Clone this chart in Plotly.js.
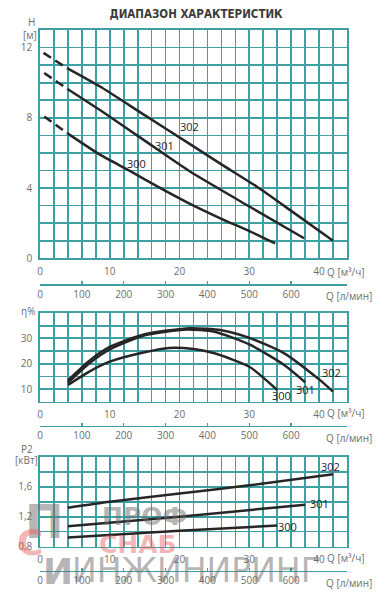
<!DOCTYPE html>
<html>
<head>
<meta charset="utf-8">
<script src="https://cdn.plot.ly/plotly-3.0.1.min.js"></script>
<style>html,body{margin:0;padding:0;background:#fff;}#chart{width:392px;height:600px;}</style>
</head>
<body>
<div id="chart"></div>
<script>
// ---------- DATA ----------
const models = ["300", "301", "302"];

// Head H [m] vs Q [m3/h]
const headDashQ300 = [0.6, 4.0];   const headDashH300 = [8.07, 7.1];
const headDashQ301 = [0.6, 4.0];   const headDashH301 = [10.55, 9.63];
const headDashQ302 = [0.5, 4.0];   const headDashH302 = [11.7, 10.8];
const headQ300 = [4.0, 8.6, 13, 17, 21.5, 26, 30, 33.7];
const headH300 = [7.1, 5.9, 4.95, 4.05, 3.1, 2.25, 1.55, 0.85];
const headQ301 = [4.0, 8.6, 15, 21.5, 30, 37.85];
const headH301 = [9.63, 8.44, 6.7, 4.94, 2.95, 1.14];
const headQ302 = [4.0, 8.6, 15, 21.5, 26, 31, 36, 42];
const headH302 = [10.8, 9.78, 8.15, 6.5, 5.35, 4.1, 2.7, 1.0];

// Efficiency eta [%]
const effQ300 = [4, 7, 10, 15, 18.5, 22, 25, 30, 34];
const effE300 = [11.6, 16.8, 20.8, 24.5, 26.2, 25.8, 24.1, 18.8, 9.6];
const effQ301 = [4, 7, 10, 15, 21, 25, 30, 35, 38];
const effE301 = [12.5, 20.0, 25.6, 31.2, 33.5, 32.6, 27.6, 19.5, 12.7];
const effQ302 = [4, 7, 10, 15, 21.5, 26, 30, 35, 40, 42];
const effE302 = [13.4, 21.0, 26.6, 31.6, 34.0, 33.2, 30.2, 24.1, 13.8, 9.0];

// Power P2 [kW]
const powQ300 = [4, 20, 34];  const powP300 = [0.92, 1.01, 1.08];
const powQ301 = [4, 20, 38];  const powP301 = [1.07, 1.20, 1.36];
const powQ302 = [4, 10, 20, 30, 42]; const powP302 = [1.32, 1.40, 1.51, 1.62, 1.77];

// Axis ticks
const qTicks = [0, 10, 20, 30, 40];
const qTickText = ["0", "10", "20", "30", "40"];
const lminTicks = [0, 100, 200, 300, 400, 500, 600];
const hTicks = [0, 4, 8, 12];
const hTickText = ["0", "4", "8", "12"];
const effTicks = [10, 20, 30];
const effTickText = ["10", "20", "30"];
const powTicks = [0.8, 1.2, 1.6];
const powTickText = ["0,8", "1,2", "1,6"];

// Label positions (data units)
const headLabelQ = [13.9, 17.9, 21.4]; const headLabelH = [5.4, 6.45, 7.5];
const effLabelQ = [34.6, 38.1, 41.8];  const effLabelE = [7.6, 9.9, 16.5];
const powLabelQ = [35.4, 40.1, 41.6];  const powLabelP = [1.07, 1.37, 1.87];

// ---------- STYLE ----------
const W = 392, H = 600;
const GRID = "rgb(62,160,162)";
const CURVE = "#262626";
const TICKC = "#6e6e6e";
const FONT = "Open Sans";
const GW = 1.7;
const px = v => v / W;
const py = v => 1 - v / H;
const xDom = [px(40), px(347)];
const qMax = 44;
const lminMax = qMax * 1000 / 60;

// grid positions (every step) with labels only at the labelled ticks
function gridTicks(lo, hi, step, labVals, labText) {
  const vals = [], text = [];
  const n = Math.round((hi - lo) / step);
  for (let i = 0; i <= n; i++) {
    const v = +(lo + i * step).toFixed(4);
    vals.push(v);
    const k = labVals.findIndex(l => Math.abs(l - v) < 1e-6);
    text.push(k >= 0 ? labText[k] : "");
  }
  return {vals, text};
}

function line(x, y, xa, ya, dash) {
  return {x: x, y: y, xaxis: xa, yaxis: ya, type: "scatter", mode: "lines",
    line: {color: CURVE, width: 2.5, shape: "spline", smoothing: 0.6, dash: dash || "solid"},
    hoverinfo: "skip", showlegend: false};
}
function carrier(xa, ya) {
  return {x: lminTicks, y: lminTicks.map(() => null), xaxis: xa, yaxis: ya, type: "scatter",
    mode: "lines", hoverinfo: "skip", showlegend: false, line: {width: 0}};
}

const traces = [
  line(headDashQ300, headDashH300, "x", "y", "9px,5px"),
  line(headDashQ301, headDashH301, "x", "y", "9px,5px"),
  line(headDashQ302, headDashH302, "x", "y", "9px,5px"),
  line(headQ300, headH300, "x", "y"),
  line(headQ301, headH301, "x", "y"),
  line(headQ302, headH302, "x", "y"),
  line(effQ300, effE300, "x2", "y2"),
  line(effQ301, effE301, "x2", "y2"),
  line(effQ302, effE302, "x2", "y2"),
  line(powQ300, powP300, "x3", "y3"),
  line(powQ301, powP301, "x3", "y3"),
  line(powQ302, powP302, "x3", "y3"),
  carrier("x4", "y"),
  carrier("x5", "y2"),
  carrier("x6", "y3")
];

const common = {showgrid: true, gridcolor: GRID, gridwidth: GW, ticks: "",
  showline: true, linecolor: GRID, linewidth: GW, mirror: true, zeroline: false,
  tickfont: {family: FONT, size: 10, color: TICKC}, fixedrange: true, tickmode: "array"};

function qAxis(anchor) {
  const g = gridTicks(0, qMax, 2, qTicks, qTickText);
  return Object.assign({}, common, {domain: xDom, range: [0, qMax], anchor: anchor,
    tickvals: g.vals, ticktext: g.text, ticklabelstandoff: 3});
}
function yAxis(anchor, dom, range, step, tv, tt) {
  const g = gridTicks(range[0], range[1], step, tv, tt);
  return Object.assign({}, common, {domain: dom, range: range, anchor: anchor,
    tickvals: g.vals, ticktext: g.text, ticklabelstandoff: 4});
}
function lminAxis(over, pos) {
  return {overlaying: over, anchor: "free", position: pos, side: "bottom", domain: xDom,
    range: [0, lminMax], tickmode: "array", tickvals: lminTicks,
    ticks: "inside", ticklen: 3, tickcolor: GRID, tickwidth: 1.4,
    showgrid: false, showline: true, linecolor: GRID, linewidth: GW, zeroline: false,
    tickfont: {family: FONT, size: 10, color: TICKC}, fixedrange: true};
}

const ann = [];
function txt(x, y, t, opts) {
  ann.push(Object.assign({x: x, y: y, xref: "paper", yref: "paper", text: t, showarrow: false,
    xanchor: "center", yanchor: "middle", font: {family: FONT, size: 10, color: TICKC}}, opts || {}));
}
// axis unit labels
txt(px(31), py(22), "H");
txt(px(30), py(35), "[м]");
txt(px(28), py(311), "η%");
txt(px(27), py(449), "P2");
txt(px(26), py(460), "[кВт]");
[[271.7, 295.7], [413, 438], [558, 582.7]].forEach(r => {
  txt(px(345), py(r[0]), "Q [м³/ч]");
  txt(px(349), py(r[1]), "Q [л/мин]");
});
// curve labels
const labFont = {family: FONT, size: 11, color: "#1e1e1e"};
for (let i = 0; i < 3; i++) {
  ann.push({x: headLabelQ[i], y: headLabelH[i], xref: "x", yref: "y", text: models[i], showarrow: false, font: labFont});
  ann.push({x: effLabelQ[i], y: effLabelE[i], xref: "x2", yref: "y2", text: models[i], showarrow: false, font: labFont});
  ann.push({x: powLabelQ[i], y: powLabelP[i], xref: "x3", yref: "y3", text: models[i], showarrow: false, font: labFont});
}
// watermark
const WG = "rgba(110,110,110,0.5)", WR = "rgba(232,90,90,0.45)";
txt(px(144), py(516), "ПРОФ", {font: {family: "DejaVu Sans", size: 25, weight: "bold", color: WG}});
txt(px(138), py(544), "СНАБ", {font: {family: "DejaVu Sans", size: 25, weight: "bold", color: WR}});
txt(px(196), py(570), "ИНЖИНИРИНГ", {font: {family: "DejaVu Sans", size: 33, color: WG}});
txt(px(44), py(522), "П", {font: {family: "DejaVu Sans", size: 46, weight: "bold", color: WG}});
txt(px(30), py(542), "С", {font: {family: "DejaVu Sans", size: 36, weight: "bold", color: WR}});
txt(px(58), py(571), "И", {font: {family: "DejaVu Sans", size: 36, weight: "bold", color: WG}});

const layout = {
  width: W, height: H, margin: {l: 0, r: 0, t: 0, b: 0},
  paper_bgcolor: "#fff", plot_bgcolor: "#fff", showlegend: false,
  title: {text: "ДИАПАЗОН ХАРАКТЕРИСТИК", x: 0.5, xref: "paper", y: py(14), yref: "paper",
    xanchor: "center", yanchor: "middle",
    font: {family: "DejaVu Sans Condensed", size: 11.5, weight: "bold", color: "#3c3c3c"}},
  xaxis: qAxis("y"),
  yaxis: yAxis("x", [py(258.3), py(30)], [0, 13], 1, hTicks, hTickText),
  xaxis2: qAxis("y2"),
  yaxis2: yAxis("x2", [py(401.7), py(313)], [5, 40], 5, effTicks, effTickText),
  xaxis3: qAxis("y3"),
  yaxis3: yAxis("x3", [py(546.5), py(457)], [0.8, 2.0], 0.2, powTicks, powTickText),
  xaxis4: lminAxis("x", py(284)),
  xaxis5: lminAxis("x2", py(425.7)),
  xaxis6: lminAxis("x3", py(570.7)),
  annotations: ann
};

Plotly.newPlot("chart", traces, layout, {staticPlot: true, displayModeBar: false});
</script>
</body>
</html>
